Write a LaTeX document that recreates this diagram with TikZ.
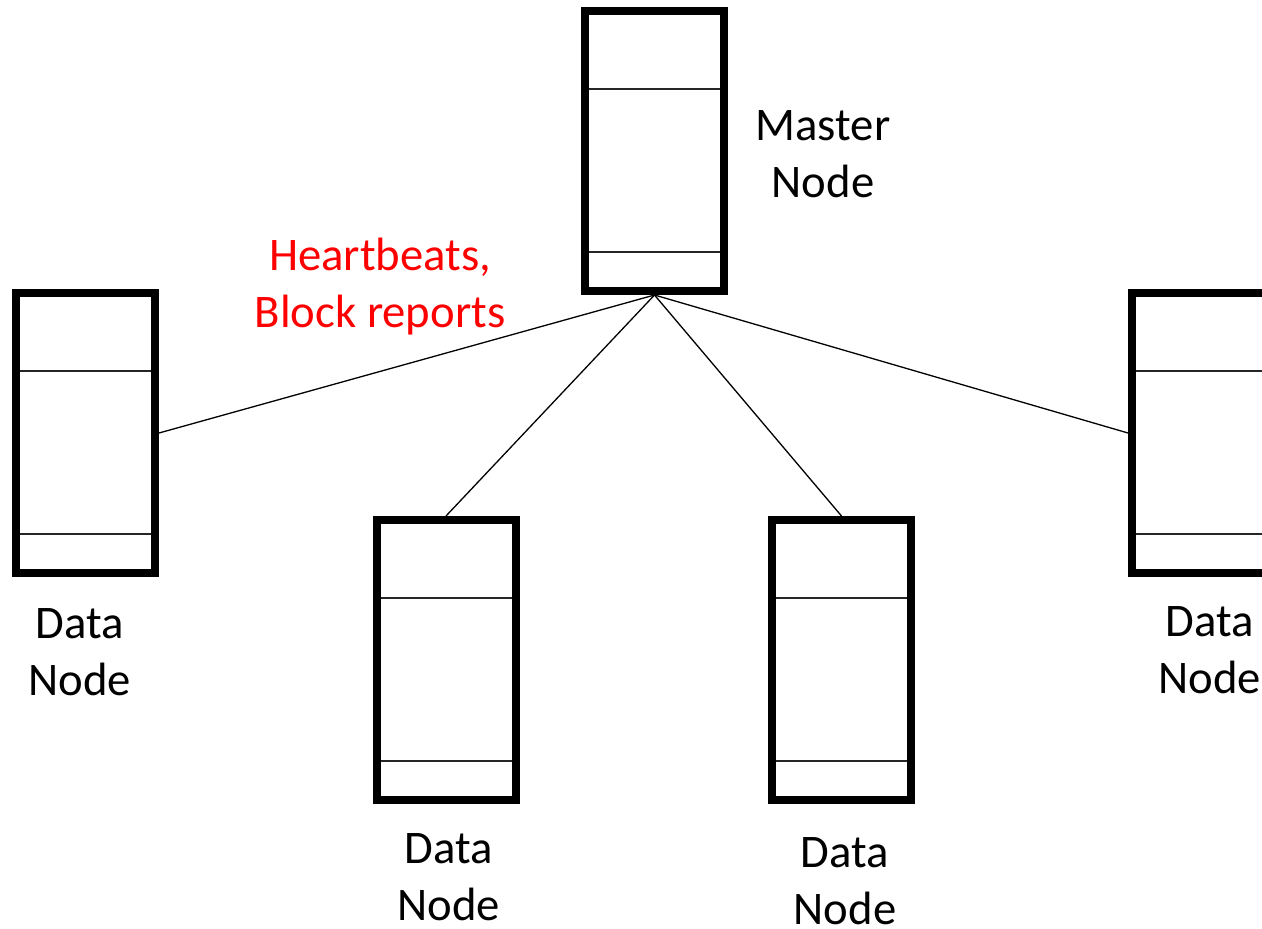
\documentclass[tikz,border=0pt]{standalone}
\usepackage{fontspec}
\setmainfont{Carlito}
\usepackage{xcolor}
\usetikzlibrary{positioning}

\tikzset{
    rack/.style={draw, line width=8pt, fill=white, inner sep=0pt,
        minimum width=139pt, minimum height=280pt,
        path picture={
            \draw[line width=1.2pt, black!85] ([yshift=-78pt]path picture bounding box.north west) -- ([yshift=-78pt]path picture bounding box.north east);
            \draw[line width=1.2pt, black!85] ([yshift=39pt]path picture bounding box.south west) -- ([yshift=39pt]path picture bounding box.south east);
        }},
    caption/.style={align=center, inner sep=0pt, font=\fontsize{46.7pt}{57pt}\selectfont},
    link/.style={line width=1.3pt}
}

\begin{document}
\begin{tikzpicture}[x=1pt, y=-1pt]
    \useasboundingbox[fill=white] (0,0) rectangle (1262,929);

    % master node
    \node[rack] (master) at (654.5, 151) {};
    \node[caption] (mastercap) at (823, 153.7) {Master\\Node};

    % data nodes
    \node[rack] (dnleft) at (85.5, 433) {};
    \node[rack] (dnmidl) at (446, 660) {};
    \node[rack] (dnmidr) at (841.5, 660) {};
    \node[rack] (dnright) at (1201.5, 433) {};

    \node[caption] (capleft) at (79.5, 652) {Data\\Node};
    \node[caption] (capmidl) at (448.5, 877) {Data\\Node};
    \node[caption] (capmidr) at (845, 881) {Data\\Node};
    \node[caption] (capright) at (1209.5, 650) {Data\\Node};

    % links to the master
    \draw[link] (master.south) -- (dnleft.east);
    \draw[link] (master.south) -- (dnmidl.north);
    \draw[link] (master.south) -- (dnmidr.north);
    \draw[link] (master.south) -- (dnright.west);

    \node[caption, red] (beats) at (380, 287) {Heartbeats,\\Block reports};
\end{tikzpicture}
\end{document}
